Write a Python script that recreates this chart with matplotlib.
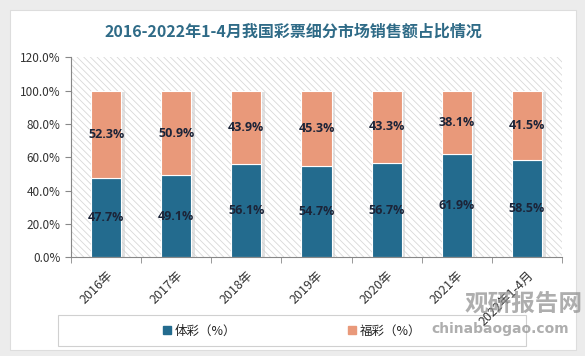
import matplotlib
matplotlib.use("Agg")
import matplotlib.pyplot as plt
from matplotlib.patches import Rectangle
from matplotlib.ticker import FuncFormatter, MultipleLocator
import numpy as np

plt.rcParams['font.family'] = ['Noto Sans CJK SC', 'DejaVu Sans']
plt.rcParams['hatch.color'] = '#d8d8d8'
plt.rcParams['hatch.linewidth'] = 0.6

years = ['2016年', '2017年', '2018年', '2019年', '2020年', '2021年', '2022年1-4月']
ticai = [47.7, 49.1, 56.1, 54.7, 56.7, 61.9, 58.5]
fucai = [52.3, 50.9, 43.9, 45.3, 43.3, 38.1, 41.5]

c_ti = '#236b8e'
c_fu = '#e9997a'

fig = plt.figure(figsize=(5.85, 3.56), dpi=100)
fig.patch.set_facecolor('#ececec')
# white panel
fig.add_artist(Rectangle((10/585, 1-350/356), 566/585, 340/356, transform=fig.transFigure,
                         facecolor='white', edgecolor='#dddddd', lw=0.8, zorder=-5))

ax = fig.add_axes([71/585, 1-257.3/356, 491/585, 200/356])
ax.set_zorder(3)
ax.set_facecolor('white')
ax.patch.set_hatch('\\\\\\\\\\')
ax.patch.set_edgecolor('#d8d8d8')

x = np.arange(len(years))
w = 0.43
# soft shadow
ax.bar(x + 0.05, np.array(ticai) + np.array(fucai), w, bottom=-0.6, color='#d0d0d0', alpha=0.6, zorder=1)
ax.bar(x, ticai, w, color=c_ti, edgecolor='white', linewidth=0.8, zorder=2)
ax.bar(x, fucai, w, bottom=ticai, color=c_fu, edgecolor='white', linewidth=0.8, zorder=2)

for i in range(len(years)):
    ax.text(x[i], ticai[i] / 2, f'{ticai[i]:.1f}%', ha='center', va='center',
            fontsize=9, fontweight='bold', color='#1c2438', zorder=3, family='Open Sans')
    ax.text(x[i], ticai[i] + fucai[i] / 2, f'{fucai[i]:.1f}%', ha='center', va='center',
            fontsize=9, fontweight='bold', color='#1c2438', zorder=3, family='Open Sans')

ax.set_xlim(-0.5, len(years) - 0.5)
ax.set_ylim(0, 120)
ax.yaxis.set_major_locator(MultipleLocator(20))
ax.yaxis.set_major_formatter(FuncFormatter(lambda v, p: f'{v:.1f}%'))
ax.tick_params(axis='y', labelsize=8.5, labelcolor='#333333', color='#888888', length=4, direction='out')

ax.set_xticks(x)
ax.set_xticklabels(years, rotation=45, ha='right', rotation_mode='anchor', fontsize=9, color='#333333')
ax.tick_params(axis='x', which='major', length=0, pad=8)
ax.set_xticks(np.arange(-0.5, len(years)), minor=True)
ax.tick_params(axis='x', which='minor', length=4, color='#888888')

for s in ['top', 'right']:
    ax.spines[s].set_visible(False)
ax.spines['left'].set_color('#888888')
ax.spines['bottom'].set_color('#888888')

fig.text(293/585, 1-32/356, '2016-2022年1-4月我国彩票细分市场销售额占比情况', ha='center', va='center',
         fontsize=11.5, fontweight='bold', color='#2f6b87')

# legend box
fig.add_artist(Rectangle((58/585, 1-346/356), 468/585, 31/356, transform=fig.transFigure,
                         facecolor='white', edgecolor='#d0d0d0', lw=0.8, zorder=1))
h1 = Rectangle((0, 0), 1, 1, color=c_ti)
h2 = Rectangle((0, 0), 1, 1, color=c_fu)
leg = fig.legend([h1, h2], ['体彩（%）', '福彩（%）'], loc='center', bbox_to_anchor=(292/585, 1-331/356),
                 ncol=2, frameon=False, fontsize=9, handlelength=0.6, handleheight=0.6,
                 handletextpad=0.3, columnspacing=9, labelcolor='#222222')
leg.set_zorder(2)

# watermark
fig.text(524/585, 1-304/356, '观研报告网', ha='center', va='center', fontsize=17,
         fontweight='bold', color='#8c8c8c', alpha=0.7, zorder=5)
fig.text(500/585, 1-329/356, 'chinabaogao.com', ha='center', va='center', fontsize=10,
         fontweight='bold', color='#8c8c8c', alpha=0.7, family='DejaVu Sans', zorder=5)

fig.savefig('out.png', dpi=100, facecolor=fig.get_facecolor())
